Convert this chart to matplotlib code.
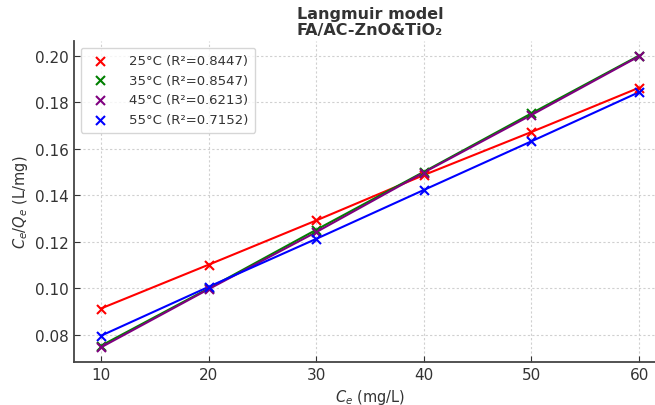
import numpy as np
import matplotlib
matplotlib.use("Agg")
import matplotlib.pyplot as plt

ce = [10, 20, 30, 40, 50, 60]
ratio_25 = [0.0914, 0.1102, 0.1292, 0.1487, 0.1672, 0.1862]
ratio_35 = [0.0754, 0.1000, 0.1252, 0.1501, 0.1752, 0.2000]
ratio_45 = [0.0747, 0.0997, 0.1242, 0.1498, 0.1745, 0.1997]
ratio_55 = [0.0797, 0.1007, 0.1213, 0.1423, 0.1632, 0.1843]
labels = ["25°C (R²=0.8447)", "35°C (R²=0.8547)", "45°C (R²=0.6213)", "55°C (R²=0.7152)"]
colors = ["red", "green", "purple", "blue"]

W, H = 655, 406
fig = plt.figure(figsize=(W / 100, H / 100), dpi=100)
# right side of the original is cut off, so the axes run past the figure edge
ax = fig.add_axes([74 / W, (H - 363) / H, (666 - 74) / W, (363 - 42) / H])

series = [ratio_25, ratio_35, ratio_45, ratio_55]
for y, lab, c in zip(series, labels, colors):
    ax.plot(ce, y, color=c, lw=1.5)
    ax.scatter(ce, y, color=c, marker="x", s=42, linewidths=1.5, label=lab, zorder=3)

ax.set_title("Langmuir model\nFA/AC-ZnO&TiO₂", fontsize=11.5, fontweight="bold",
             color="#333333", pad=5, linespacing=1.05)
ax.set_xlabel("$C_e$ (mg/L)", fontsize=10.5, color="#333333")
ax.set_ylabel("$C_e/Q_e$ (L/mg)", fontsize=10.5, color="#333333")
ax.set_xticks([10, 20, 30, 40, 50, 60])
ax.set_yticks([0.08, 0.10, 0.12, 0.14, 0.16, 0.18, 0.20])
ax.set_yticklabels([f"{v:.2f}" for v in [0.08, 0.10, 0.12, 0.14, 0.16, 0.18, 0.20]])
ax.tick_params(direction="in", length=4, labelsize=11, colors="#333333")
ax.grid(True, linestyle="--", color="#d0d0d0", lw=0.8, dashes=(2, 2))
ax.set_axisbelow(True)
for s in ["top", "right"]:
    ax.spines[s].set_visible(False)
for s in ["left", "bottom"]:
    ax.spines[s].set_color("#444444")
    ax.spines[s].set_linewidth(1.3)

ax.legend(loc="upper left", fontsize=9.5, frameon=True, borderpad=0.5,
          handletextpad=1.2, labelcolor="#333333")

fig.savefig("out.png", dpi=100)
